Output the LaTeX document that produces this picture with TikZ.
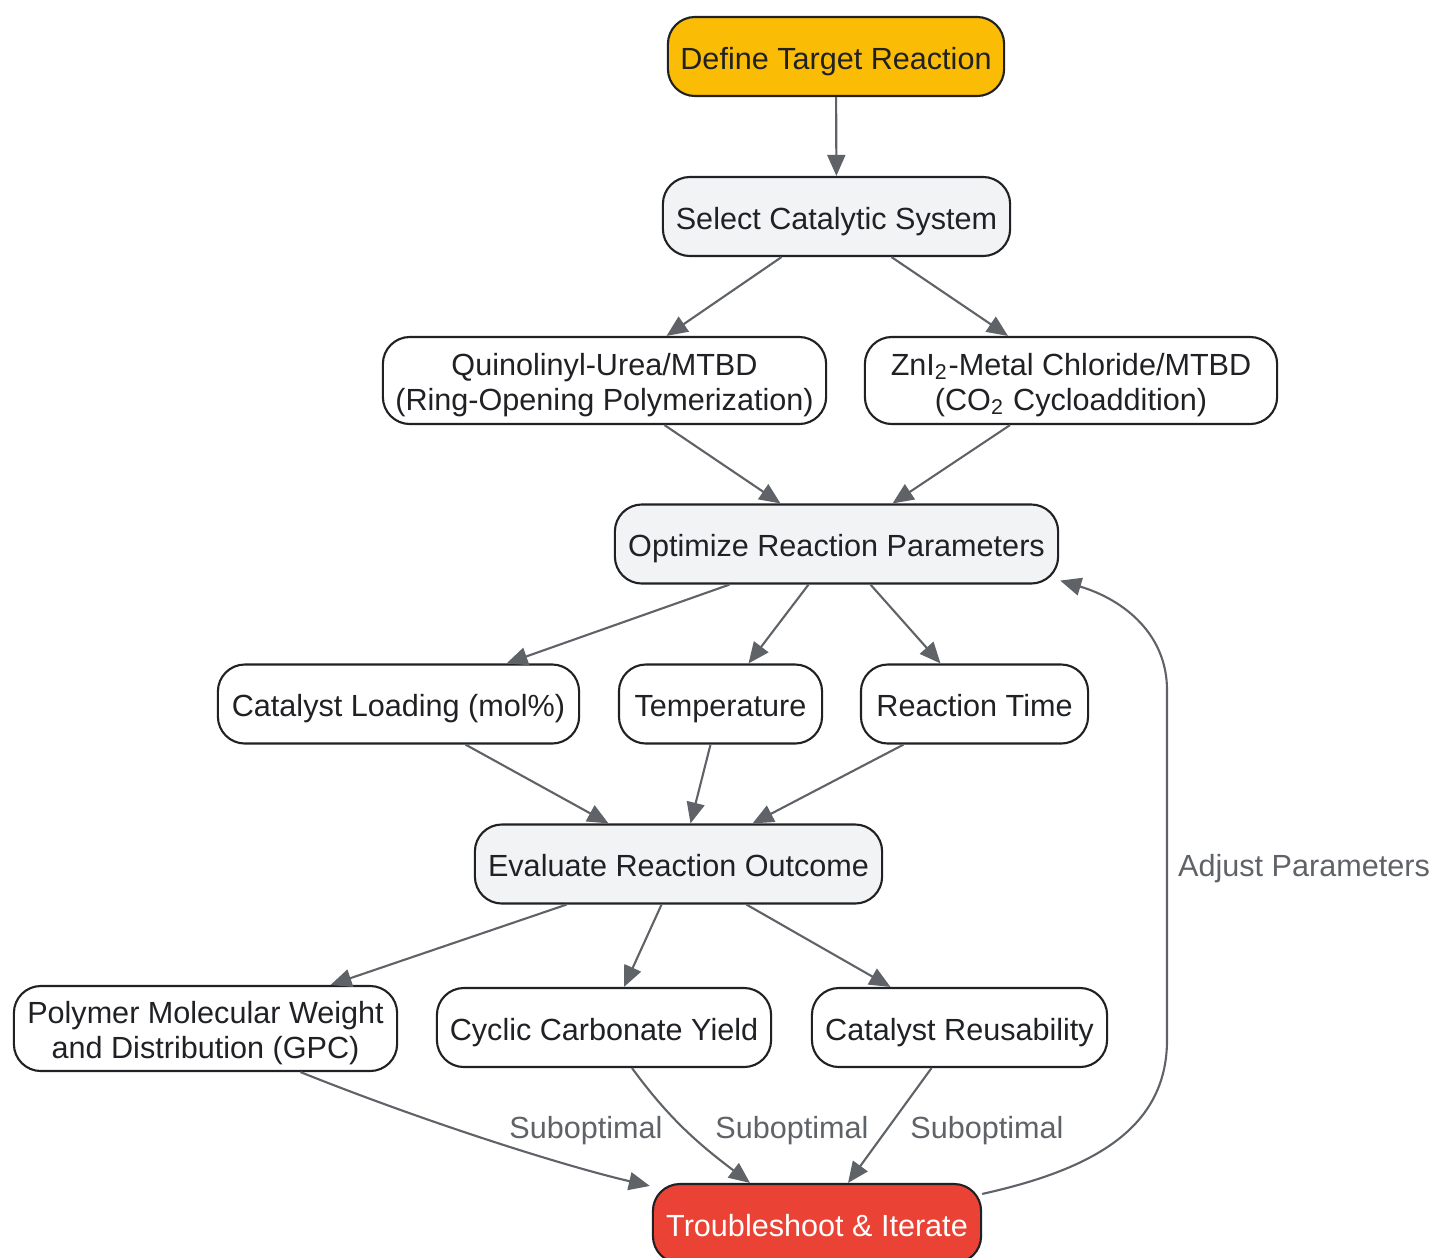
\documentclass[tikz,border=0pt]{standalone}
\usepackage{fontspec}
\setmainfont{Liberation Sans}
\usetikzlibrary{arrows.meta,calc}

\definecolor{amber}{HTML}{FBBC05}
\definecolor{paleg}{HTML}{F1F3F4}
\definecolor{alert}{HTML}{EA4335}
\definecolor{ink}{HTML}{202124}
\definecolor{wire}{HTML}{5F6368}

\begin{document}
\begin{tikzpicture}[x=0.01cm,y=-0.01cm,
	font=\fontsize{8.7}{10}\selectfont,
	box/.style={draw=ink, line width=0.6pt, rounded corners=0.27cm, fill=white,
		text=ink, align=center, inner sep=0pt, minimum height=0.79cm,
		text height=9.5pt, text depth=2.2pt},
	twoline/.style={minimum height=0.87cm, text height=19.5pt, text depth=2.2pt},
	flow/.style={draw=wire, line width=0.6pt, -{Stealth[length=0.21cm,width=0.18cm,inset=0pt]}},
	lab/.style={text=wire, inner sep=0pt, text height=9.5pt, text depth=2.2pt}]
	\useasboundingbox (0,0) rectangle (1434,1257);

	% main chain
	\node[box, fill=amber, minimum width=3.36cm] (def) at (836,56.5) {Define Target Reaction};
	\node[box, fill=paleg, minimum width=3.47cm] (sel) at (836.5,216.5) {Select Catalytic System};
	\node[box, twoline, minimum width=4.43cm] (quin) at (604.5,380.5) {Quinolinyl-Urea/MTBD\\(Ring-Opening Polymerization)};
	\node[box, twoline, minimum width=4.12cm] (zni) at (1071,380.5) {ZnI\textsubscript{2}-Metal Chloride/MTBD\\(CO\textsubscript{2} Cycloaddition)};
	\node[box, fill=paleg, minimum width=4.43cm] (opt) at (836.5,544) {Optimize Reaction Parameters};

	% parameters
	\node[box, minimum width=3.61cm] (load) at (398.5,704) {Catalyst Loading (mol\%)};
	\node[box, minimum width=2.03cm] (temp) at (720.5,704) {Temperature};
	\node[box, minimum width=2.27cm] (time) at (974.5,704) {Reaction Time};

	\node[box, fill=paleg, minimum width=4.07cm] (eval) at (678.5,864) {Evaluate Reaction Outcome};

	% outcomes
	\node[box, twoline, minimum width=3.83cm, minimum height=0.85cm] (poly) at (205.5,1028.5) {Polymer Molecular Weight\\and Distribution (GPC)};
	\node[box, minimum width=3.34cm] (cyc) at (604,1027.5) {Cyclic Carbonate Yield};
	\node[box, minimum width=2.95cm] (reuse) at (959.5,1027.5) {Catalyst Reusability};

	\node[box, fill=alert, text=white, minimum width=3.28cm] (trb) at (817,1223.5) {Troubleshoot \& Iterate};

	\draw[flow] (def) -- (sel);
	\draw[flow] ($(sel.south)+(-55,0)$) -- ($(quin.north)+(62,0)$);
	\draw[flow] ($(sel.south)+(55,0)$) -- ($(zni.north)+(-63,0)$);
	\draw[flow] ($(quin.south)+(60,0)$) -- ($(opt.north)+(-56,0)$);
	\draw[flow] ($(zni.south)+(-61,0)$) -- ($(opt.north)+(56,0)$);

	\draw[flow] ($(opt.south)+(-107,0)$) -- ($(load.north)+(108,0)$);
	\draw[flow] ($(opt.south)+(-28,0)$) -- ($(temp.north)+(28,0)$);
	\draw[flow] ($(opt.south)+(34,0)$) -- ($(time.north)+(-34,0)$);

	\draw[flow] ($(load.south)+(67,0)$) -- ($(eval.north)+(-70,0)$);
	\draw[flow] ($(temp.south)+(-10,0)$) -- ($(eval.north)+(12,0)$);
	\draw[flow] ($(time.south)+(-71,0)$) -- ($(eval.north)+(74,0)$);

	\draw[flow] ($(eval.south)+(-112,0)$) -- ($(poly.north)+(125,0)$);
	\draw[flow] ($(eval.south)+(-17,0)$) -- ($(cyc.north)+(20,0)$);
	\draw[flow] ($(eval.south)+(68,0)$) -- ($(reuse.north)+(-69,0)$);

	% back to troubleshooting
	\draw[flow] ($(poly.south)+(95,0)$) .. controls (420,1120) and (560,1165) .. ($(trb.north west)+(-2,3)$);
	\draw[flow] ($(cyc.south)+(28,0)$) .. controls (670,1120) and (700,1145) .. ($(trb.north)+(-67,0)$);
	\draw[flow] ($(reuse.south)+(-28,0)$) -- ($(trb.north)+(31,0)$);
	\node[lab] (sub1) at (586,1126) {Suboptimal};
	\node[lab] (sub2) at (792,1126) {Suboptimal};
	\node[lab] (sub3) at (987,1126) {Suboptimal};

	% loop
	\draw[flow] ($(trb.north east)+(0,11)$) .. controls (1090,1170) and (1167,1130) .. (1167,1040)
		-- (1167,690) .. controls (1167,635) and (1125,600) .. ($(opt.south east)+(1,-4)$);
	\node[lab] (adj) at (1304,864) {Adjust Parameters};
\end{tikzpicture}
\end{document}
